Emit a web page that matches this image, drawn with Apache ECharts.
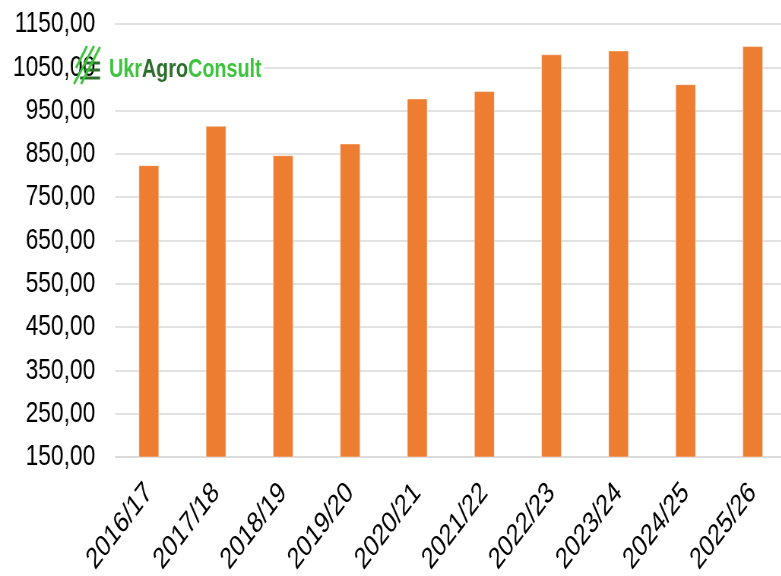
<!DOCTYPE html>
<html>
<head>
<meta charset="utf-8">
<script src="https://cdn.jsdelivr.net/npm/echarts@6/dist/echarts.min.js"></script>
<style>
html,body{margin:0;padding:0;background:#fff;overflow:hidden;width:781px;height:576px}
#c{width:1028px;height:576px;transform:scaleX(0.76);transform-origin:0 0}
</style>
</head>
<body>
<div id="c"></div>
<script>
var categories = ['2016/17','2017/18','2018/19','2019/20','2020/21','2021/22','2022/23','2023/24','2024/25','2025/26'];
var values = [824, 915, 847, 874, 978, 995, 1080, 1089, 1011, 1099];
var yMin = 150, yMax = 1150, yStep = 100;

var K = 0.76; // horizontal squeeze of the original picture
function X(px) { return px / K; }
var FONT = '"Liberation Sans", Arial, sans-serif';
var chart = echarts.init(document.getElementById('c'), null, {renderer: 'canvas'});
chart.setOption({
  animation: false,
  backgroundColor: '#fff',
  grid: {left: X(115.3), right: -X(5), top: 24, bottom: 119, containLabel: false, outerBoundsMode: 'none'},
  xAxis: {
    type: 'category',
    data: categories,
    axisLine: {show: true, lineStyle: {color: '#d9d9d9', width: 1.5}},
    axisTick: {show: false},
    axisLabel: {rotate: 45, margin: 31, color: '#000', fontFamily: FONT, fontSize: 30, interval: 0, hideOverlap: false}
  },
  yAxis: {
    type: 'value',
    min: yMin, max: yMax, interval: yStep,
    axisLine: {show: false},
    axisTick: {show: false},
    splitLine: {lineStyle: {color: '#d9d9d9', width: 1.5}},
    axisLabel: {
      margin: X(20), color: '#000', fontFamily: FONT, fontSize: 30,
      formatter: function (v) { return v.toFixed(2).replace('.', ','); }
    }
  },
  series: [{
    type: 'bar',
    data: values,
    barWidth: X(20.5),
    itemStyle: {color: '#ED7D31', borderColor: 'rgba(255,255,255,0.45)', borderWidth: 1}
  }],
  graphic: [
    {type: 'rect', left: X(102), top: 50, shape: {width: X(162), height: 38}, style: {fill: '#fff'}, z: 100},
    {type: 'line', shape: {x1: X(86), y1: 63, x2: X(100), y2: 63}, style: {stroke: '#2a6e2a', lineWidth: 3}, z: 101},
    {type: 'line', shape: {x1: X(84), y1: 70, x2: X(100), y2: 70}, style: {stroke: '#2a6e2a', lineWidth: 3}, z: 101},
    {type: 'line', shape: {x1: X(80), y1: 78, x2: X(100), y2: 78}, style: {stroke: '#2a6e2a', lineWidth: 3}, z: 101},
    {type: 'line', shape: {x1: X(74), y1: 84, x2: X(94), y2: 46}, style: {stroke: '#3cc43c', lineWidth: 3}, z: 102},
    {type: 'line', shape: {x1: X(81), y1: 84, x2: X(100), y2: 47}, style: {stroke: '#3cc43c', lineWidth: 3}, z: 102},
    {type: 'line', shape: {x1: X(76), y1: 68, x2: X(87), y2: 46}, style: {stroke: '#3cc43c', lineWidth: 3}, z: 102},
    {
      type: 'text', left: X(109), top: 57, z: 103,
      style: {
        text: '{a|Ukr}{b|Agro}{a|Consult}',
        rich: {
          a: {fill: '#3cc43c', fontFamily: FONT, fontWeight: 'bold', fontSize: 26},
          b: {fill: '#2a6e2a', fontFamily: FONT, fontWeight: 'bold', fontSize: 26}
        }
      }
    }
  ]
});
</script>
</body>
</html>
